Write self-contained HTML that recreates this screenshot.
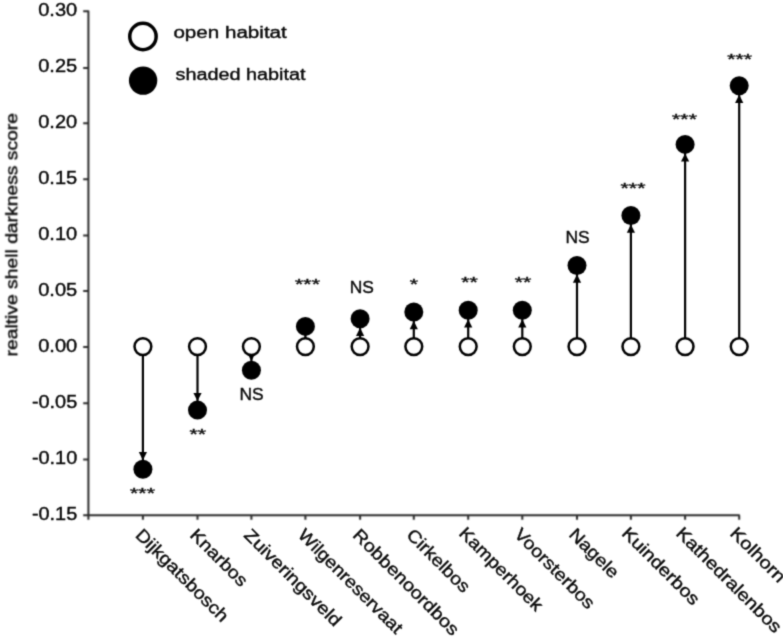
<!DOCTYPE html><html><head><meta charset="utf-8"><title>chart</title><style>html,body{margin:0;padding:0;background:#fff}svg{display:block}text{font-family:"Liberation Sans",sans-serif;fill:#0a0a0a;stroke:#0a0a0a;stroke-width:0.4px}</style></head><body>
<svg width="783" height="639" viewBox="0 0 783 639">
<defs><filter id="b" filterUnits="userSpaceOnUse" x="0" y="0" width="783" height="639" color-interpolation-filters="sRGB"><feConvolveMatrix order="5" kernelMatrix="0.00001 0.00042 0.00170 0.00042 0.00001 0.00042 0.02740 0.10988 0.02740 0.00042 0.00170 0.10988 0.44065 0.10988 0.00170 0.00042 0.02740 0.10988 0.02740 0.00042 0.00001 0.00042 0.00170 0.00042 0.00001" edgeMode="none" preserveAlpha="false"/></filter><filter id="b2" filterUnits="userSpaceOnUse" x="0" y="0" width="783" height="639" color-interpolation-filters="sRGB"><feConvolveMatrix order="5" kernelMatrix="0.00023 0.00332 0.00809 0.00332 0.00023 0.00332 0.04785 0.11640 0.04785 0.00332 0.00809 0.11640 0.28313 0.11640 0.00809 0.00332 0.04785 0.11640 0.04785 0.00332 0.00023 0.00332 0.00809 0.00332 0.00023" edgeMode="none" preserveAlpha="false"/></filter></defs>
<rect width="783" height="639" fill="#fff"/>
<g filter="url(#b2)">
<path d="M83.2 11.2H88.4V519.8000000000001M88.4 515.2H739.8M83.2 67.9H88.4M83.2 123.3H88.4M83.2 179.3H88.4M83.2 235.5H88.4M83.2 291.0H88.4M83.2 347.0H88.4M83.2 403.3H88.4M83.2 459.6H88.4M83.2 515.2H88.4M142.9 515.2V519.8000000000001M197.5 515.2V519.8000000000001M251.4 515.2V519.8000000000001M305.4 515.2V519.8000000000001M360.1 515.2V519.8000000000001M413.8 515.2V519.8000000000001M468.2 515.2V519.8000000000001M522.3 515.2V519.8000000000001M577.0 515.2V519.8000000000001M630.9 515.2V519.8000000000001M685.1 515.2V519.8000000000001M739.2 515.2V519.8000000000001" fill="none" stroke="#2a2a2a" stroke-width="2.0" stroke-linejoin="round"/>
</g>
<g filter="url(#b)">
<text x="77.2" y="15.7" font-size="18" text-anchor="end" textLength="39.0" lengthAdjust="spacingAndGlyphs">0.30</text>
<text x="77.2" y="72.4" font-size="18" text-anchor="end" textLength="39.0" lengthAdjust="spacingAndGlyphs">0.25</text>
<text x="77.2" y="127.8" font-size="18" text-anchor="end" textLength="39.0" lengthAdjust="spacingAndGlyphs">0.20</text>
<text x="77.2" y="183.8" font-size="18" text-anchor="end" textLength="39.0" lengthAdjust="spacingAndGlyphs">0.15</text>
<text x="77.2" y="240.0" font-size="18" text-anchor="end" textLength="39.0" lengthAdjust="spacingAndGlyphs">0.10</text>
<text x="77.2" y="295.5" font-size="18" text-anchor="end" textLength="39.0" lengthAdjust="spacingAndGlyphs">0.05</text>
<text x="77.2" y="351.5" font-size="18" text-anchor="end" textLength="39.0" lengthAdjust="spacingAndGlyphs">0.00</text>
<text x="77.2" y="407.8" font-size="18" text-anchor="end" textLength="45.3" lengthAdjust="spacingAndGlyphs">-0.05</text>
<text x="77.2" y="464.1" font-size="18" text-anchor="end" textLength="45.3" lengthAdjust="spacingAndGlyphs">-0.10</text>
<text x="77.2" y="519.7" font-size="18" text-anchor="end" textLength="45.3" lengthAdjust="spacingAndGlyphs">-0.15</text>
<text transform="translate(134.5 536.0) rotate(45) scale(1.1311 1)" font-size="17.5">Dijkgatsbosch</text>
<text transform="translate(189.1 536.0) rotate(45) scale(1.1206 1)" font-size="17.5">Knarbos</text>
<text transform="translate(243.0 536.0) rotate(45) scale(1.1470 1)" font-size="17.5">Zuiveringsveld</text>
<text transform="translate(297.0 536.0) rotate(45) scale(1.1047 1)" font-size="17.5">Wilgenreservaat</text>
<text transform="translate(351.7 536.0) rotate(45) scale(1.1417 1)" font-size="17.5">Robbenoordbos</text>
<text transform="translate(405.4 536.0) rotate(45) scale(1.1206 1)" font-size="17.5">Cirkelbos</text>
<text transform="translate(458.0 534.2) rotate(45) scale(1.1100 1)" font-size="17.5">Kamperhoek</text>
<text transform="translate(513.2 535.3) rotate(45) scale(1.1311 1)" font-size="17.5">Voorsterbos</text>
<text transform="translate(568.0 535.4) rotate(45) scale(1.1206 1)" font-size="17.5">Nagele</text>
<text transform="translate(620.7 534.2) rotate(45) scale(1.1502 1)" font-size="17.5">Kuinderbos</text>
<text transform="translate(674.9 534.2) rotate(45) scale(1.1523 1)" font-size="17.5">Kathedralenbos</text>
<text transform="translate(729.0 534.2) rotate(45) scale(1.1629 1)" font-size="17.5">Kolhorn</text>
<text transform="translate(17.3 356.5) rotate(-90)" font-size="16.9" textLength="243.5" lengthAdjust="spacingAndGlyphs">realtive shell darkness score</text>
<circle cx="142.95" cy="36.45" r="13.2" fill="#fff" stroke="#000" stroke-width="3.5"/>
<circle cx="143.1" cy="80.6" r="14.2" fill="#000"/>
<text x="173.4" y="38.4" font-size="17.3" textLength="113.4" lengthAdjust="spacingAndGlyphs">open habitat</text>
<text x="175.5" y="80.4" font-size="17.3" textLength="130" lengthAdjust="spacingAndGlyphs">shaded habitat</text>
<path d="M142.9 346.6V469.2" stroke="#000" stroke-width="2.2"/>
<path d="M142.9 460.2l-4.1 -8.2h8.2z" fill="#000"/>
<circle cx="142.9" cy="346.6" r="8.4" fill="#fff" stroke="#000" stroke-width="2.5"/>
<circle cx="142.9" cy="469.2" r="9.5" fill="#000"/>
<text transform="translate(142.5 498.2) scale(1.42 1)" font-size="15" stroke-width="0.5" text-anchor="middle">***</text>
<path d="M197.5 346.6V410.1" stroke="#000" stroke-width="2.2"/>
<path d="M197.5 401.1l-4.1 -8.2h8.2z" fill="#000"/>
<circle cx="197.5" cy="346.6" r="8.4" fill="#fff" stroke="#000" stroke-width="2.5"/>
<circle cx="197.5" cy="410.1" r="9.5" fill="#000"/>
<text transform="translate(197.65 438.7) scale(1.42 1)" font-size="15" stroke-width="0.5" text-anchor="middle">**</text>
<path d="M251.4 346.6V370.3" stroke="#000" stroke-width="2.2"/>
<path d="M251.4 361.3l-4.1 -8.2h8.2z" fill="#000"/>
<circle cx="251.4" cy="346.6" r="8.4" fill="#fff" stroke="#000" stroke-width="2.5"/>
<circle cx="251.4" cy="370.3" r="9.5" fill="#000"/>
<text x="251.6" y="400.0" font-size="17.4" text-anchor="middle">NS</text>
<path d="M305.4 346.6V326.4" stroke="#000" stroke-width="2.2"/>
<path d="M305.4 335.4l-4.1 8.2h8.2z" fill="#000"/>
<circle cx="305.4" cy="346.6" r="8.4" fill="#fff" stroke="#000" stroke-width="2.5"/>
<circle cx="305.4" cy="326.4" r="9.5" fill="#000"/>
<text transform="translate(307.5 289.2) scale(1.42 1)" font-size="15" stroke-width="0.5" text-anchor="middle">***</text>
<path d="M360.1 346.6V318.8" stroke="#000" stroke-width="2.2"/>
<path d="M360.1 327.8l-4.1 8.2h8.2z" fill="#000"/>
<circle cx="360.1" cy="346.6" r="8.4" fill="#fff" stroke="#000" stroke-width="2.5"/>
<circle cx="360.1" cy="318.8" r="9.5" fill="#000"/>
<text x="361.8" y="292.5" font-size="17.4" text-anchor="middle">NS</text>
<path d="M413.8 346.6V312.0" stroke="#000" stroke-width="2.2"/>
<path d="M413.8 321.0l-4.1 8.2h8.2z" fill="#000"/>
<circle cx="413.8" cy="346.6" r="8.4" fill="#fff" stroke="#000" stroke-width="2.5"/>
<circle cx="413.8" cy="312.0" r="9.5" fill="#000"/>
<text transform="translate(414.0 289.1) scale(1.42 1)" font-size="15" stroke-width="0.5" text-anchor="middle">*</text>
<path d="M468.2 346.6V310.3" stroke="#000" stroke-width="2.2"/>
<path d="M468.2 319.3l-4.1 8.2h8.2z" fill="#000"/>
<circle cx="468.2" cy="346.6" r="8.4" fill="#fff" stroke="#000" stroke-width="2.5"/>
<circle cx="468.2" cy="310.3" r="9.5" fill="#000"/>
<text transform="translate(469.5 287.3) scale(1.42 1)" font-size="15" stroke-width="0.5" text-anchor="middle">**</text>
<path d="M522.3 346.6V310.3" stroke="#000" stroke-width="2.2"/>
<path d="M522.3 319.3l-4.1 8.2h8.2z" fill="#000"/>
<circle cx="522.3" cy="346.6" r="8.4" fill="#fff" stroke="#000" stroke-width="2.5"/>
<circle cx="522.3" cy="310.3" r="9.5" fill="#000"/>
<text transform="translate(523.0 287.3) scale(1.42 1)" font-size="15" stroke-width="0.5" text-anchor="middle">**</text>
<path d="M577.0 346.6V265.5" stroke="#000" stroke-width="2.2"/>
<path d="M577.0 274.5l-4.1 8.2h8.2z" fill="#000"/>
<circle cx="577.0" cy="346.6" r="8.4" fill="#fff" stroke="#000" stroke-width="2.5"/>
<circle cx="577.0" cy="265.5" r="9.5" fill="#000"/>
<text x="577.6" y="243.0" font-size="17.4" text-anchor="middle">NS</text>
<path d="M630.9 346.6V215.5" stroke="#000" stroke-width="2.2"/>
<path d="M630.9 224.5l-4.1 8.2h8.2z" fill="#000"/>
<circle cx="630.9" cy="346.6" r="8.4" fill="#fff" stroke="#000" stroke-width="2.5"/>
<circle cx="630.9" cy="215.5" r="9.5" fill="#000"/>
<text transform="translate(633.0 193.0) scale(1.42 1)" font-size="15" stroke-width="0.5" text-anchor="middle">***</text>
<path d="M685.1 346.6V144.4" stroke="#000" stroke-width="2.2"/>
<path d="M685.1 153.4l-4.1 8.2h8.2z" fill="#000"/>
<circle cx="685.1" cy="346.6" r="8.4" fill="#fff" stroke="#000" stroke-width="2.5"/>
<circle cx="685.1" cy="144.4" r="9.5" fill="#000"/>
<text transform="translate(684.5 124.0) scale(1.42 1)" font-size="15" stroke-width="0.5" text-anchor="middle">***</text>
<path d="M739.2 346.6V85.8" stroke="#000" stroke-width="2.2"/>
<path d="M739.2 94.8l-4.1 8.2h8.2z" fill="#000"/>
<circle cx="739.2" cy="346.6" r="8.4" fill="#fff" stroke="#000" stroke-width="2.5"/>
<circle cx="739.2" cy="85.8" r="9.5" fill="#000"/>
<text transform="translate(739.7 63.9) scale(1.42 1)" font-size="15" stroke-width="0.5" text-anchor="middle">***</text>
</g>
</svg></body></html>
